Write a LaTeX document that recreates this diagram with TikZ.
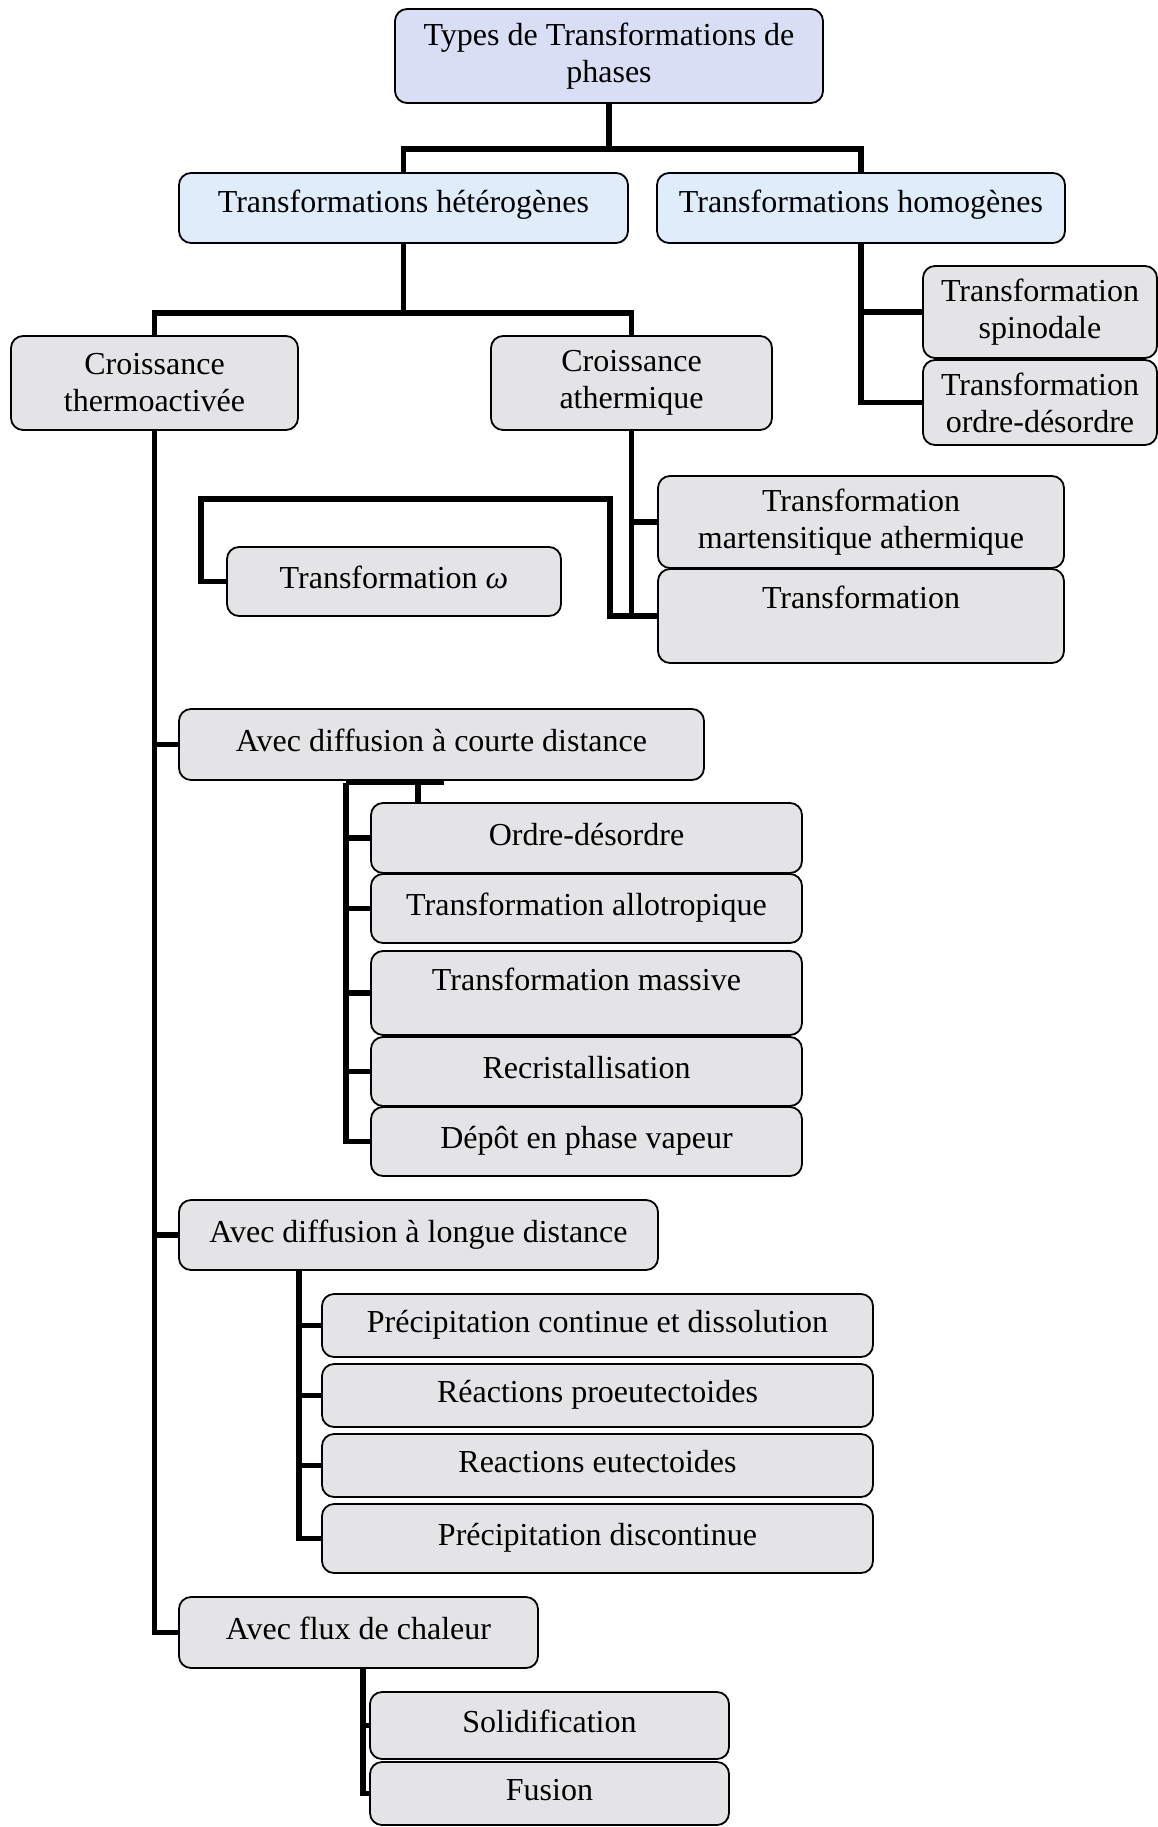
\documentclass[tikz,border=0pt]{standalone}
\usepackage{fontspec}
\setmainfont{Liberation Serif}
\usepackage{tikz}
\definecolor{lavfill}{HTML}{D8DEF4}
\definecolor{skyfill}{HTML}{DFECF9}
\definecolor{marblefill}{HTML}{E4E4E6}
\begin{document}
\begin{tikzpicture}[x=1pt, y=-1pt, font=\fontsize{32}{37}\selectfont,
    card/.style = {draw, line width=1.8pt, rounded corners=12pt, align=center, inner sep=2pt},
    marble/.style = {card, fill=marblefill},
    skybox/.style = {card, fill=skyfill},
    oneline/.style = {text height=22pt, text depth=8pt},
    link/.style = {line width=5.5pt}]
    \useasboundingbox (0,0) rectangle (1158,1827);

    \node at (609,56) [card, fill=lavfill, minimum width=428pt, minimum height=94pt] (top) {Types de Transformations de\\phases};

    \node at (403.5,208) [skybox, oneline, text depth=12pt, minimum width=449pt, minimum height=70pt] (het) {Transformations hétérogènes};
    \node at (861,208) [skybox, oneline, text depth=12pt, minimum width=408pt, minimum height=70pt] (hom) {Transformations homogènes};

    \node at (154.5,383) [marble, minimum width=287pt, minimum height=94pt] (thermo) {Croissance\\thermoactivée};
    \node at (631.5,383) [marble, minimum width=281pt, minimum height=94pt] (ather) {Croissance\\athermique};

    \node at (1040,312) [marble, minimum width=234pt, minimum height=92pt] (spino) {Transformation\\spinodale};
    \node at (1040,402.5) [marble, minimum width=234pt, minimum height=85pt] (odes) {Transformation\\ordre-désordre};

    %Croissance athermique
    \node at (861,522) [marble, minimum width=406pt, minimum height=92pt] (marte) {Transformation\\martensitique athermique};
    \node at (861,616) [marble, minimum width=406pt, minimum height=94pt] (trans) {Transformation\\\mbox{}};
    \node at (394,581.5) [marble, oneline, minimum width=334pt, minimum height=69pt] (omega) {Transformation \textit{ω}};

    %Courte distance
    \node at (441.5,744.5) [marble, oneline, minimum width=525pt, minimum height=71pt] (courte) {Avec diffusion à courte distance};
    \node at (586.5,838) [marble, oneline, minimum width=431pt, minimum height=70pt] (od) {Ordre-désordre};
    \node at (586.5,908.5) [marble, oneline, minimum width=431pt, minimum height=69pt] (allo) {Transformation allotropique};
    \node at (586.5,993) [marble, oneline, text depth=28pt, minimum width=431pt, minimum height=84pt] (mass) {Transformation massive};
    \node at (586.5,1071.5) [marble, oneline, minimum width=431pt, minimum height=69pt] (recr) {Recristallisation};
    \node at (586.5,1141.5) [marble, oneline, minimum width=431pt, minimum height=69pt] (depot) {Dépôt en phase vapeur};

    %Longue distance
    \node at (418.5,1235) [marble, oneline, minimum width=479pt, minimum height=70pt] (longue) {Avec diffusion à longue distance};
    \node at (597.5,1325.5) [marble, oneline, minimum width=551pt, minimum height=63pt] (pcont) {Précipitation continue et dissolution};
    \node at (597.5,1395.5) [marble, oneline, minimum width=551pt, minimum height=63pt] (proeu) {Réactions proeutectoides};
    \node at (597.5,1465.5) [marble, oneline, minimum width=551pt, minimum height=63pt] (eut) {Reactions eutectoides};
    \node at (597.5,1538.5) [marble, oneline, minimum width=551pt, minimum height=69pt] (pdisc) {Précipitation discontinue};

    %Flux de chaleur
    \node at (358.5,1632.5) [marble, oneline, minimum width=359pt, minimum height=71pt] (flux) {Avec flux de chaleur};
    \node at (549.5,1725.5) [marble, oneline, minimum width=359pt, minimum height=67pt] (solid) {Solidification};
    \node at (549.5,1793.5) [marble, oneline, minimum width=359pt, minimum height=63pt] (fusion) {Fusion};

    \coordinate (j1) at (609,149);
    \coordinate (j2) at (403.5,313);
    \coordinate (w1) at (201,499);
    \coordinate (w2) at (610,499);
    \coordinate (c1) at (346,782.5);
    \coordinate (c2) at (418,782.5);
    \coordinate (l1) at (299,1270);
    \coordinate (f1) at (363,1668);

    \draw[link] (top.south) -- (j1);
    \draw[link] (het.north) |- (j1) -| (hom.north);
    \draw[link] (het.south) -- (j2);
    \draw[link] (thermo.north) |- (j2) -| (ather.north);

    \draw[link] (hom.south) |- (spino.west);
    \draw[link] (hom.south) |- (odes.west);

    \draw[link] (ather.south) |- (marte.west);
    \draw[link] (ather.south) |- (trans.west);
    \draw[link] (omega.west) -| (w1) -- (w2) |- (trans.west);

    \draw[link] (thermo.south) |- (courte.west);
    \draw[link] (thermo.south) |- (longue.west);
    \draw[link] (thermo.south) |- (flux.west);

    \draw[link] (courte.south) |- (c1);
    \draw[link] (c2) -- (c2 |- od.north);
    \foreach \b in {od, allo, mass, recr, depot}
        \draw[link] (c1) |- (\b.west);

    \foreach \b in {pcont, proeu, eut, pdisc}
        \draw[link] (l1) |- (\b.west);

    \draw[link] (f1) |- (solid.west);
    \draw[link] (f1) |- (fusion.west);

\end{tikzpicture}
\end{document}
